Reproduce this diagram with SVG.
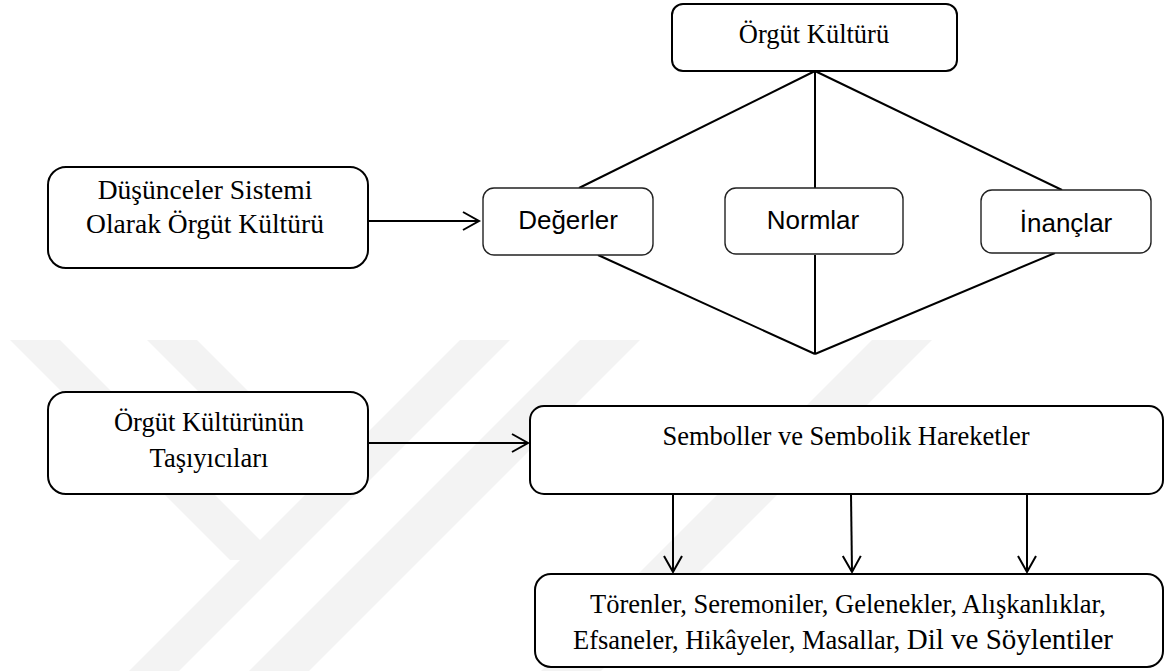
<svg xmlns="http://www.w3.org/2000/svg" width="1168" height="671" viewBox="0 0 1168 671">
<defs>
<style>
.wm{fill:#f3f3f3;stroke:none}
.box{fill:#fff;stroke:#000;stroke-width:2}
.sbox{fill:#fff;stroke:#222;stroke-width:1.4}
.ln{fill:none;stroke:#000;stroke-width:2}
.serif{font-family:"Liberation Serif","Times New Roman",serif;font-size:26.5px;fill:#000;text-anchor:middle}
.big{font-size:27.5px}
.sans{font-family:"Liberation Sans",Arial,sans-serif;font-size:26px;fill:#000;text-anchor:middle}
</style>
<marker id="ah" markerWidth="20" markerHeight="22" refX="17" refY="10" orient="auto" markerUnits="userSpaceOnUse">
<path d="M1,1 L17,10 L1,19" fill="none" stroke="#000" stroke-width="2"/>
</marker>
</defs>
<rect width="1168" height="671" fill="#fff"/>
<g id="watermark">
<polygon class="wm" points="10,340 60,340 280,560 230,560"/>
<polygon class="wm" points="460,340 510,340 179,671 129,671"/>
<polygon class="wm" points="147,340 197,340 352,495 302,495"/>
<polygon class="wm" points="580,340 640,340 309,671 249,671"/>
<polygon class="wm" points="872,340 932,340 601,671 541,671"/>
</g>
<g id="connectors">
<line class="ln" x1="815" y1="71" x2="579" y2="188"/>
<line class="ln" x1="815" y1="71" x2="815" y2="188"/>
<line class="ln" x1="815" y1="71" x2="1062" y2="190"/>
<line class="ln" x1="598" y1="255" x2="815" y2="354"/>
<line class="ln" x1="815" y1="255" x2="815" y2="354"/>
<line class="ln" x1="1055" y1="253" x2="815" y2="354"/>
<line class="ln" x1="368" y1="221" x2="479" y2="221" marker-end="url(#ah)"/>
<line class="ln" x1="368" y1="443" x2="528" y2="443" marker-end="url(#ah)"/>
<line class="ln" x1="673" y1="494" x2="673" y2="572" marker-end="url(#ah)"/>
<line class="ln" x1="851" y1="494" x2="852" y2="572" marker-end="url(#ah)"/>
<line class="ln" x1="1027" y1="494" x2="1027" y2="572" marker-end="url(#ah)"/>
</g>
<g id="orgut-kulturu">
<rect class="box" x="672" y="4" width="285" height="67" rx="11"/>
<text class="serif" x="814" y="43">Örgüt Kültürü</text>
</g>
<g id="dusunceler">
<rect class="box" x="48" y="167" width="320" height="101" rx="18"/>
<text class="serif big" x="205" y="199">Düşünceler Sistemi</text>
<text class="serif big" x="205" y="233">Olarak Örgüt Kültürü</text>
</g>
<g id="degerler">
<rect class="sbox" x="483" y="188" width="170" height="67" rx="11"/>
<text class="sans" x="568" y="229">Değerler</text>
</g>
<g id="normlar">
<rect class="sbox" x="725" y="188" width="178" height="66" rx="11"/>
<text class="sans" x="813" y="229">Normlar</text>
</g>
<g id="inanclar">
<rect class="sbox" x="981" y="190" width="170" height="63" rx="11"/>
<text class="sans" x="1066" y="232">İnançlar</text>
</g>
<g id="tasiyicilar">
<rect class="box" x="48" y="392" width="320" height="102" rx="18"/>
<text class="serif" x="209" y="431">Örgüt Kültürünün</text>
<text class="serif" x="209" y="467">Taşıyıcıları</text>
</g>
<g id="semboller">
<rect class="box" x="530" y="406" width="633" height="88" rx="14"/>
<text class="serif" x="846" y="445">Semboller ve Sembolik Hareketler</text>
</g>
<g id="torenler">
<rect class="box" x="535" y="574" width="628" height="93" rx="16"/>
<text class="serif" x="848" y="613">Törenler, Seremoniler, Gelenekler, Alışkanlıklar,</text>
<text class="serif" x="843" y="649">Efsaneler, Hikâyeler, Masallar, <tspan font-size="29px">Dil ve Söylentiler</tspan></text>
</g>
</svg>
